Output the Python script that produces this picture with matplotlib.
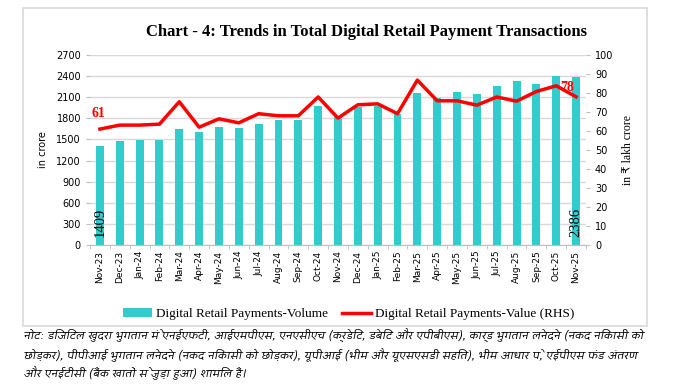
import matplotlib
matplotlib.use("Agg")
import matplotlib.pyplot as plt
import numpy as np
from matplotlib import font_manager as fm
from matplotlib.ft2font import FT2Font
from matplotlib.patches import Rectangle

# data
months = ['Nov-23', 'Dec-23', 'Jan-24', 'Feb-24', 'Mar-24', 'Apr-24', 'May-24',
          'Jun-24', 'Jul-24', 'Aug-24', 'Sep-24', 'Oct-24', 'Nov-24', 'Dec-24',
          'Jan-25', 'Feb-25', 'Mar-25', 'Apr-25', 'May-25', 'Jun-25', 'Jul-25',
          'Aug-25', 'Sep-25', 'Oct-25', 'Nov-25']
volume = [1409, 1482, 1495, 1497, 1652, 1609, 1680, 1666, 1723, 1780, 1780,
          1979, 1813, 1965, 1979, 1865, 2165, 2089, 2179, 2150, 2264, 2335,
          2293, 2407, 2386]
value = [61, 63.1, 63.1, 63.6, 75.4, 62.0, 66.4, 64.3, 69.1, 68.0, 68.0,
         77.9, 66.8, 73.8, 74.3, 69.1, 86.8, 75.9, 75.9, 73.6, 77.9, 75.7,
         80.8, 83.8, 78]

title = 'Chart - 4: Trends in Total Digital Retail Payment Transactions'
note = ('नोट: डिजिटल खुदरा भुगतान में एनईएफटी, आईएमपीएस, एनएसीएच (क्रेडिट, डेबिट और एपीबीएस), कार्ड भुगतान लेनदेन (नकद निकासी को\n'
        'छोड़कर), पीपीआई भुगतान लेनदेन (नकद निकासी को छोड़कर), यूपीआई (भीम और यूएसएसडी सहित), भीम आधार पे, एईपीएस फंड अंतरण\n'
        'और एनईटीसी (बैंक खातों से जुड़ा हुआ) शामिल हैं।')

# find an installed font with Devanagari glyphs, if any
deva = None
for f in fm.fontManager.ttflist:
    try:
        if 0x0915 in FT2Font(f.fname).get_charmap():
            deva = f.name
            if 'italic' in f.style:
                break
    except Exception:
        pass
note_family = [deva, 'DejaVu Sans'] if deva else ['DejaVu Sans']

teal = '#33CCCC'
red = '#FF0000'
grid = '#D9D9D9'
serif = ['Liberation Serif', 'DejaVu Sans']

fig = plt.figure(figsize=(6.77, 3.84), dpi=100)
fig.patches.append(Rectangle((23 / 677, 1 - 326 / 384), 624 / 677, 318 / 384,
                             transform=fig.transFigure, fill=False,
                             edgecolor='#D9D9D9', lw=1.2))

ax = fig.add_axes([90 / 677, 1 - 245 / 384, 496 / 677, 190 / 384])
x = np.arange(len(months))
bars = ax.bar(x, volume, width=0.4, color=teal, zorder=2,
              label='Digital Retail Payments-Volume')
ax.set_xlim(-0.5, len(months) - 0.5)
ax.set_ylim(0, 2700)
ax.set_yticks(np.arange(0, 2701, 300))
ax.yaxis.grid(True, color=grid, lw=1, zorder=0)
ax.set_axisbelow(True)
ax.set_xticks(x)
ax.set_xticklabels(months, rotation=90, fontsize=6.5)
ax.set_xticks(np.arange(-0.5, len(months)), minor=True)
ax.tick_params(axis='x', which='major', length=0, pad=4)
ax.tick_params(axis='x', which='minor', length=3, color='#BFBFBF')
ax.tick_params(axis='y', labelsize=7, length=3, color='#BFBFBF')
for s in ['top', 'left', 'right']:
    ax.spines[s].set_visible(False)
ax.spines['bottom'].set_color('#BFBFBF')
ax.set_ylabel('in crore', fontsize=7, labelpad=6)

ax2 = ax.twinx()
line, = ax2.plot(x, value, color=red, lw=2.5, zorder=3,
                 label='Digital Retail Payments-Value (RHS)')
ax2.set_ylim(0, 100)
ax2.set_yticks(np.arange(0, 101, 10))
ax2.tick_params(axis='y', labelsize=7, length=3, color='#BFBFBF')
for s in ['top', 'left', 'right', 'bottom']:
    ax2.spines[s].set_visible(False)
ax2.set_ylabel('in ₹ lakh crore', fontsize=8.5, family=serif, labelpad=6)

# data labels
ax2.annotate('61', (x[0], value[0]), xytext=(-1, 11), textcoords='offset points',
             color=red, fontsize=10, fontweight='bold', family=serif,
             ha='center', va='center')
ax2.annotate('78', (x[-1], value[-1]), xytext=(-6.5, 6.5), textcoords='offset points',
             color=red, fontsize=10, fontweight='bold', family=serif,
             ha='center', va='center')
for i in [0, len(months) - 1]:
    ax.text(x[i], 110, str(volume[i]), rotation=90, ha='center', va='bottom',
            fontsize=10.5, family=serif)

ax.set_zorder(ax2.get_zorder() - 1)
ax2.patch.set_visible(False)

fig.text(0.541, 1 - 32 / 384, title, ha='center', va='center', fontsize=12,
         fontweight='bold', family=serif)

fig.legend([bars, line], [bars.get_label(), line.get_label()],
           loc='center', bbox_to_anchor=(0.515, 1 - 314 / 384), ncol=2,
           frameon=False, prop={'family': serif, 'size': 9.5},
           handlelength=2.2, handletextpad=0.3, columnspacing=1.0)

fig.text(24 / 677, 1 - 329 / 384, note, ha='left', va='top', fontsize=9.3,
         style='italic', family=note_family, linespacing=1.45)

fig.savefig('out.png', dpi=100)
